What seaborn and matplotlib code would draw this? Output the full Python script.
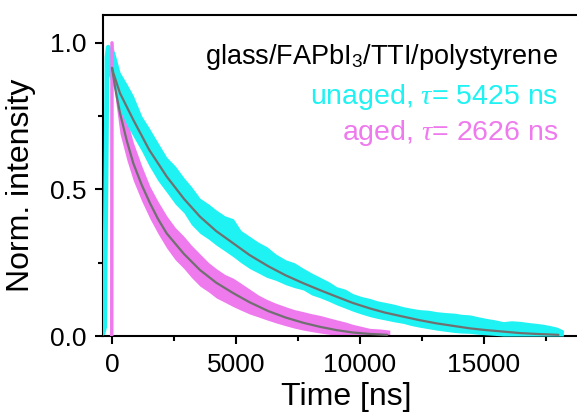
import matplotlib
matplotlib.use("Agg")
import matplotlib.pyplot as plt
import seaborn as sns
import pandas as pd
from matplotlib.ticker import MultipleLocator, FormatStrFormatter

# ---------------- data ----------------
# fitted curves
fit_unaged_t = [0, 54, 323, 860, 1500, 2205, 2900, 3548, 4200, 4892, 5550, 6300, 7000, 7715,
                 8400, 9060, 9700, 10403, 11000, 11747, 12400, 13093, 13800, 14435, 15100,
                 15780, 16450, 17125, 18000]
fit_unaged_v = [0.915, 0.897, 0.828, 0.737, 0.635, 0.544, 0.468, 0.407, 0.358, 0.316, 0.276,
                0.238, 0.207, 0.180, 0.156, 0.134, 0.113, 0.094, 0.080, 0.066, 0.054, 0.043,
                0.034, 0.026, 0.020, 0.015, 0.010, 0.007, 0.004]
fit_aged_t = [0, 150, 323, 600, 860, 1200, 1532, 1850, 2205, 2900, 3548, 4200, 4892, 5550,
              6300, 7000, 7715, 8400, 9060, 9700, 10403, 11100]
fit_aged_v = [0.914, 0.835, 0.760, 0.665, 0.589, 0.515, 0.453, 0.400, 0.350, 0.280, 0.225,
              0.182, 0.146, 0.115, 0.085, 0.063, 0.045, 0.031, 0.020, 0.012, 0.007, 0.004]

# measured (noisy) data: envelope of the noise band
unaged_t = [-150, 100, 323, 600, 860, 1200, 1500, 1850, 2205, 2550, 2900, 3200, 3548, 3900,
            4200, 4550, 4892, 5200, 5550, 5900, 6237, 6600, 7000, 7350, 7715, 8050, 8400,
            8750, 9060, 9400, 9700, 10050, 10403, 10700, 11000, 11400, 11747, 12050, 12400,
            12750, 13093, 13450, 13800, 14100, 14435, 14750, 15100, 15450, 15780, 16100,
            16450, 16800, 17125, 17400, 17700, 17950, 18200]
unaged_lo = [0.89, 0.84, 0.77, 0.72, 0.68, 0.63, 0.58, 0.53, 0.49, 0.45, 0.42, 0.38, 0.35,
             0.33, 0.31, 0.29, 0.27, 0.25, 0.23, 0.215, 0.20, 0.19, 0.175, 0.165, 0.157,
             0.14, 0.13, 0.118, 0.106, 0.095, 0.085, 0.075, 0.066, 0.06, 0.055, 0.048, 0.043,
             0.036, 0.03, 0.025, 0.02, 0.016, 0.012, 0.01, 0.009, 0.006, 0.004, 0.002, 0.0,
             0.0, 0.0, 0.0, 0.0, 0.0, 0.0, 0.0, 0.0]
unaged_hi = [0.99, 0.97, 0.90, 0.86, 0.82, 0.75, 0.71, 0.66, 0.61, 0.58, 0.54, 0.51, 0.47,
             0.45, 0.43, 0.41, 0.40, 0.36, 0.34, 0.32, 0.305, 0.28, 0.26, 0.25, 0.231, 0.215,
             0.20, 0.185, 0.168, 0.16, 0.145, 0.135, 0.128, 0.12, 0.115, 0.108, 0.10, 0.095,
             0.09, 0.088, 0.083, 0.08, 0.078, 0.074, 0.072, 0.066, 0.06, 0.055, 0.049, 0.052,
             0.05, 0.046, 0.043, 0.04, 0.035, 0.03, 0.02]
unaged_rise_t = [-363, -300, -200, -150]
unaged_rise_v = [0.01, 0.03, 0.95, 0.985]

aged_t = [30, 150, 323, 600, 860, 1200, 1532, 1850, 2205, 2550, 2900, 3200, 3548, 3900,
          4200, 4550, 4892, 5200, 5550, 5900, 6237, 6600, 7000, 7350, 7715, 8050, 8400,
          8750, 9060, 9400, 9700, 10050, 10403, 10800, 11200]
aged_lo = [0.90, 0.80, 0.69, 0.60, 0.53, 0.46, 0.40, 0.35, 0.30, 0.26, 0.23, 0.20, 0.17,
           0.15, 0.13, 0.115, 0.10, 0.088, 0.075, 0.065, 0.055, 0.045, 0.035, 0.027, 0.02,
           0.015, 0.01, 0.006, 0.003, 0.0, 0.0, 0.0, 0.0, 0.0, 0.0]
aged_hi = [1.0, 0.93, 0.84, 0.74, 0.66, 0.58, 0.51, 0.46, 0.41, 0.37, 0.34, 0.31, 0.28,
           0.25, 0.23, 0.21, 0.197, 0.18, 0.16, 0.14, 0.125, 0.112, 0.10, 0.09, 0.083,
           0.076, 0.07, 0.062, 0.055, 0.048, 0.04, 0.033, 0.026, 0.024, 0.02]
aged_rise_t = [-10, 0]
aged_rise_v = [0.0, 1.0]

title_text = "glass/FAPbI$_3$/TTI/polystyrene"
unaged_label = "unaged, $\\tau$= 5425 ns"
aged_label = "aged, $\\tau$= 2626 ns"
xticks = [0, 5000, 10000, 15000]
yticks = [0.0, 0.5, 1.0]

# ---------------- style ----------------
sns.set_theme(style="ticks")
plt.rcParams["font.family"] = ["Liberation Sans", "DejaVu Sans"]
plt.rcParams["mathtext.fontset"] = "custom"
plt.rcParams["mathtext.rm"] = "Liberation Sans"
plt.rcParams["mathtext.it"] = "Liberation Serif:italic"
plt.rcParams["axes.linewidth"] = 1.5

CYAN = "#1EF2F2"
MAGENTA = "#EE7AEE"
GRAY = "#707070"

fig = plt.figure(figsize=(5.77, 4.16), dpi=100)
ax = fig.add_axes([103 / 577, 80 / 416, (590 - 103) / 577, 321 / 416])

# noisy bands
ax.fill_between(aged_t, aged_lo, aged_hi, color=MAGENTA, linewidth=0, zorder=2)
ax.fill_between(unaged_t, unaged_lo, unaged_hi, color=CYAN, linewidth=0, zorder=3)

rise_u = pd.DataFrame({"t": unaged_rise_t, "v": unaged_rise_v})
rise_a = pd.DataFrame({"t": aged_rise_t, "v": aged_rise_v})
sns.lineplot(data=rise_u, x="t", y="v", ax=ax, color=CYAN, lw=3.5, sort=False,
             estimator=None, zorder=3)
sns.lineplot(data=rise_a, x="t", y="v", ax=ax, color=MAGENTA, lw=2.5, sort=False,
             estimator=None, zorder=4)

fu = pd.DataFrame({"t": fit_unaged_t, "v": fit_unaged_v})
fa = pd.DataFrame({"t": fit_aged_t, "v": fit_aged_v})
sns.lineplot(data=fu, x="t", y="v", ax=ax, color=GRAY, lw=1.6, sort=False,
             estimator=None, zorder=5)
sns.lineplot(data=fa, x="t", y="v", ax=ax, color=GRAY, lw=1.6, sort=False,
             estimator=None, zorder=5)

ax.set_xlim(-363, 19274)
ax.set_ylim(0, 1.095)
ax.set_xticks(xticks)
ax.set_yticks(yticks)
ax.yaxis.set_major_formatter(FormatStrFormatter("%.1f"))
ax.xaxis.set_minor_locator(MultipleLocator(2500))
ax.yaxis.set_minor_locator(MultipleLocator(0.25))
ax.tick_params(which="major", direction="out", length=6, width=1.5, labelsize=19,
               pad=6, color="black", labelcolor="black")
ax.tick_params(which="minor", direction="out", length=3.5, width=1.5, color="black")
for s in ax.spines.values():
    s.set_color("black")
    s.set_linewidth(1.5)

ax.set_xlabel("Time [ns]", fontsize=23, labelpad=4, color="black")
ax.set_ylabel("Norm. intensity", fontsize=23, color="black")
# y label: right (descender) side at ~36 px, centred at ~185 px in the figure
ax.yaxis.set_label_coords((36 - 103) / 487, (336 - 185) / 321)

ax.text(17980, 0.928, title_text, ha="right", va="baseline", fontsize=19.5, color="black")
ax.text(17980, 0.792, unaged_label, ha="right", va="baseline", fontsize=20.5, color=CYAN)
ax.text(17980, 0.668, aged_label, ha="right", va="baseline", fontsize=20.5, color=MAGENTA)

fig.savefig("out.png", dpi=100)
